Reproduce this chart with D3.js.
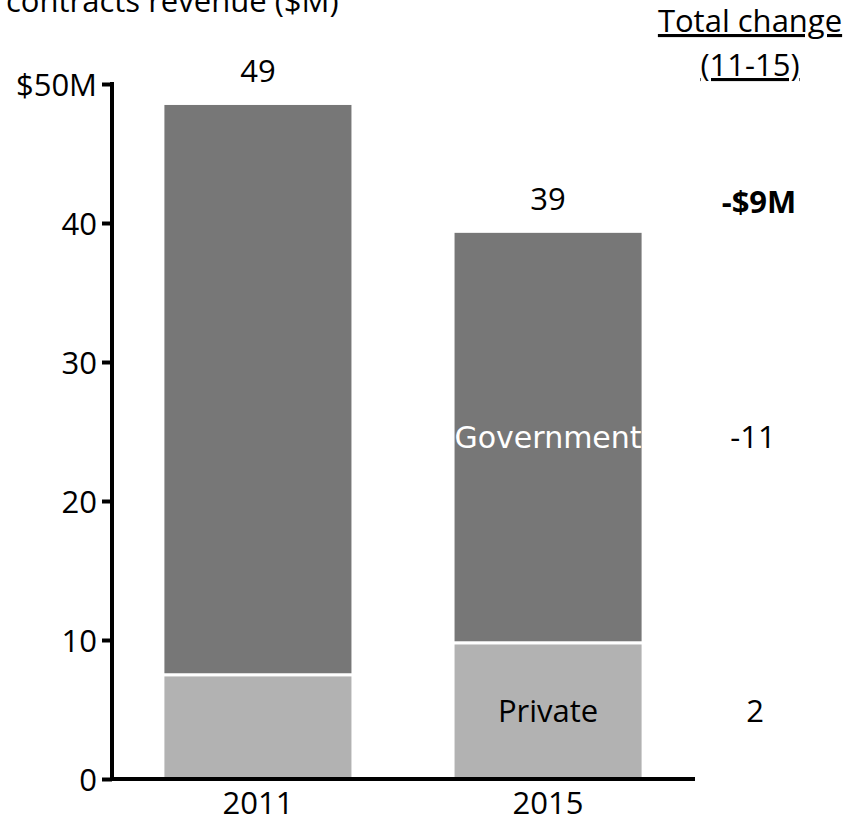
<!DOCTYPE html>
<html>
<head>
<meta charset="utf-8">
<script src="https://cdn.jsdelivr.net/npm/d3@7"></script>
<style>
  html, body { margin: 0; padding: 0; background: #fff; }
  svg { display: block; }
  text { font-family: "Open Sans", "Noto Sans", sans-serif; fill: #000; font-size: 31px; }
</style>
</head>
<body>
<svg id="chart" width="850" height="823"></svg>
<script>
// Contracts revenue by customer type ($M)
const years = ["2011", "2015"];
const privateRevenue = [7.5, 9.8];
const governmentRevenue = [41.1, 29.6];
const segmentNames = ["Private", "Government"];
const segmentColors = ["#b2b2b2", "#777777"];
const yTicks = [0, 10, 20, 30, 40, 50];
const changeLabels = ["-$9M", "-11", "2"];

const svg = d3.select("#chart");
const fmt = d3.format(".0f");

const x = d3.scaleBand()
  .domain(years)
  .range([113, 693])
  .paddingInner(0.345)
  .paddingOuter(0.172);

const y = d3.scaleLinear().domain([0, 50]).range([779, 84]);

// stacked segments
const rows = years.map((yr, i) => ({ year: yr, Private: privateRevenue[i], Government: governmentRevenue[i] }));
const stack = d3.stack().keys(segmentNames)(rows);

svg.append("g")
  .selectAll("g")
  .data(stack)
  .join("g")
  .attr("fill", (d, i) => segmentColors[i])
  .selectAll("rect")
  .data(d => d)
  .join("rect")
  .attr("x", d => x(d.data.year))
  .attr("width", x.bandwidth())
  .attr("y", d => y(d[1]))
  .attr("height", d => y(d[0]) - y(d[1]))
  .attr("stroke", "#fff")
  .attr("stroke-width", 3);

// totals above bars
const totals = rows.map(r => ({ year: r.year, total: r.Private + r.Government }));
svg.append("g")
  .selectAll("text")
  .data(totals)
  .join("text")
  .attr("x", d => x(d.year) + x.bandwidth() / 2)
  .attr("y", d => y(d.total) - 21)
  .attr("text-anchor", "middle")
  .text(d => fmt(d.total));

// segment names inside the 2015 bar
const last = rows[rows.length - 1];
const cx = x(last.year) + x.bandwidth() / 2;
const privY = y(last.Private / 2) + 11;
const govY = y(last.Private + last.Government / 2) + 11;
svg.append("text")
  .attr("x", cx)
  .attr("y", privY)
  .attr("text-anchor", "middle")
  .text("Private");
svg.append("text")
  .attr("x", cx)
  .attr("y", govY)
  .attr("text-anchor", "middle")
  .style("font-family", "'DejaVu Sans', sans-serif")
  .style("font-size", "30px")
  .style("fill", "#fff")
  .text("Government");

// y axis
const yAxis = d3.axisLeft(y)
  .tickValues(yTicks)
  .tickSize(10)
  .tickPadding(5)
  .tickFormat(d => d === 50 ? "$50M" : d);
const gy = svg.append("g").attr("transform", "translate(112,0)").call(yAxis);
gy.select(".domain").remove();
gy.selectAll(".tick line").attr("stroke", "#000").attr("stroke-width", 4);
gy.selectAll(".tick text")
  .style("font-size", "31px")
  .style("font-family", "'Open Sans', sans-serif")
  .attr("dy", "0.36em")
  .attr("fill", "#000");
gy.append("line")
  .attr("x1", 0).attr("x2", 0)
  .attr("y1", y(50) - 2).attr("y2", y(0) + 2)
  .attr("stroke", "#000").attr("stroke-width", 4);

// x axis
const xAxis = d3.axisBottom(x).tickSize(0).tickPadding(13);
const gx = svg.append("g").attr("transform", `translate(0,${y(0)})`).call(xAxis);
gx.select(".domain").remove();
gx.selectAll(".tick text")
  .style("font-size", "31px")
  .style("font-family", "'Open Sans', sans-serif")
  .attr("fill", "#000");
gx.append("line")
  .attr("x1", 110).attr("x2", 695)
  .attr("y1", 0).attr("y2", 0)
  .attr("stroke", "#000").attr("stroke-width", 4);

// title (first line falls above the visible area)
svg.append("text")
  .attr("x", 6)
  .attr("y", 12)
  .text("contracts revenue ($M)");

// change column
const colX = 750;
svg.append("text").attr("x", colX).attr("y", 32)
  .attr("text-anchor", "middle")
  .style("text-decoration", "underline").text("Total change");
svg.append("text").attr("x", colX).attr("y", 76)
  .attr("text-anchor", "middle")
  .style("text-decoration", "underline").text("(11-15)");

svg.append("text").attr("x", 759).attr("y", 213)
  .attr("text-anchor", "middle")
  .style("font-weight", "bold").text(changeLabels[0]);
svg.append("text").attr("x", 753).attr("y", govY)
  .attr("text-anchor", "middle").text(changeLabels[1]);
svg.append("text").attr("x", 755).attr("y", privY)
  .attr("text-anchor", "middle").text(changeLabels[2]);
</script>
</body>
</html>
